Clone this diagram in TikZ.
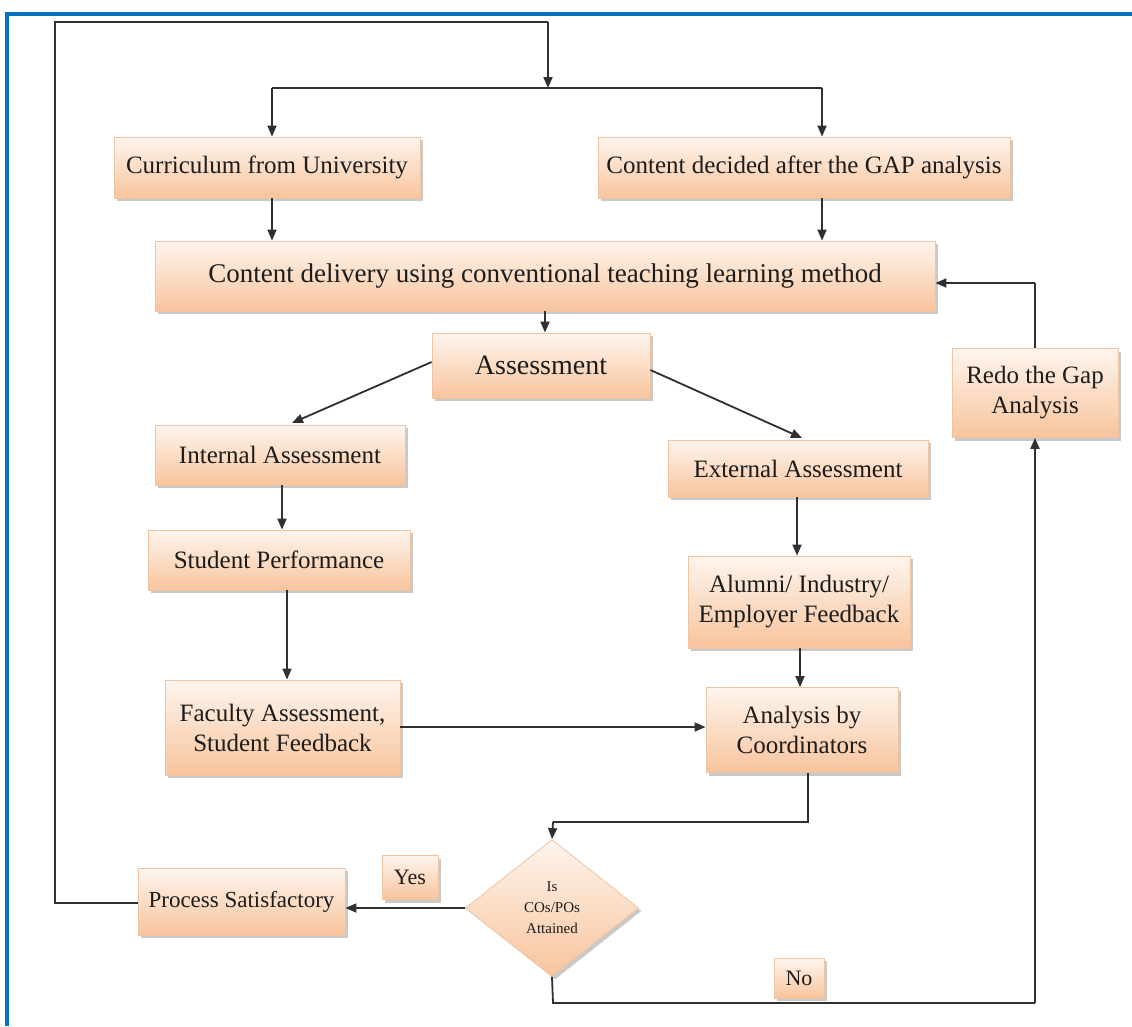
\documentclass[tikz,border=0pt]{standalone}
\usepackage{fontspec}
\setmainfont{Liberation Serif}
\usetikzlibrary{arrows.meta,shapes.geometric,shadows,calc}
\definecolor{peachtop}{HTML}{FEF5EE}
\definecolor{peachbot}{HTML}{F8C49C}
\definecolor{peachline}{HTML}{EFC4A2}
\definecolor{frameblue}{HTML}{0A70C0}
\definecolor{linecol}{HTML}{303030}
\definecolor{textcol}{HTML}{1C1C1C}
\begin{document}
\begin{tikzpicture}[x=1pt,y=-1pt,
  box/.style={draw=peachline,line width=0.8pt,top color=peachtop,bottom color=peachbot,
    drop shadow={shadow xshift=3pt,shadow yshift=-3pt,fill=black!35,opacity=0.6},
    text=textcol,align=center,inner sep=2pt,font=\fontsize{25}{30}\selectfont},
  conn/.style={draw=linecol,line width=1.8pt},
  arr/.style={conn,-{Triangle[length=11pt,width=9pt]}},
  ]
\useasboundingbox (0,0) rectangle (1132,1026);
\fill[white] (0,0) rectangle (1132,1026);
% blue frame
\draw[frameblue,line width=4pt] (4.5,14) -- (1132,14);
\draw[frameblue,line width=4pt] (6.5,12) -- (6.5,1026);

% nodes
\node[box,minimum width=306pt,minimum height=61pt] (cur) at (267,167.5) {Curriculum from University};
\node[box,minimum width=412pt,minimum height=61pt] (gap) at (804,167.5) {Content decided after the GAP analysis};
\node[box,minimum width=780pt,minimum height=70pt,font=\fontsize{27}{32}\selectfont] (del) at (545,276) {Content delivery using conventional teaching learning method};
\node[box,minimum width=218pt,minimum height=65pt,font=\fontsize{28}{32}\selectfont] (ass) at (541,365.5) {Assessment};
\node[box,minimum width=250pt,minimum height=60pt] (int) at (280,455) {Internal Assessment};
\node[box,minimum width=260pt,minimum height=57pt] (ext) at (798,468.5) {External Assessment};
\node[box,minimum width=262pt,minimum height=60pt] (sp) at (279,560) {Student Performance};
\node[box,minimum width=222pt,minimum height=92pt] (alu) at (799,602) {Alumni/ Industry/\\Employer Feedback};
\node[box,minimum width=235pt,minimum height=95pt] (fac) at (282.5,727.5) {Faculty Assessment,\\Student Feedback};
\node[box,minimum width=192pt,minimum height=85pt] (ana) at (802,730) {Analysis by\\Coordinators};
\node[box,minimum width=166pt,minimum height=89pt] (redo) at (1035,393) {Redo the Gap\\Analysis};
\node[box,diamond,minimum width=173pt,minimum height=137pt,inner sep=0pt,font=\fontsize{15}{21}\selectfont] (dia) at (552,908) {Is\\COs/POs\\Attained};
\node[box,minimum width=56pt,minimum height=44pt,font=\fontsize{22}{26}\selectfont] (yes) at (410,877.5) {Yes};
\node[box,minimum width=50pt,minimum height=40pt,font=\fontsize{22}{26}\selectfont] (no) at (799,978) {No};
\node[box,minimum width=207pt,minimum height=67pt,font=\fontsize{23}{28}\selectfont] (ps) at (241.5,901.5) {Process Satisfactory};

% top loop
\coordinate (tl) at (55,22);
\coordinate (tr) at (548,22);
\coordinate (split) at (548,88);
\coordinate (hl) at (272,88);
\coordinate (hr) at (822,88);
\draw[conn] (ps.west |- 0,903) -- (55,903) -- (tl) -- (tr);
\draw[arr] (tr) -- (split);
\draw[conn] (hl) -- (hr);
\draw[arr] (hl) -- (hl |- cur.north);
\draw[arr] (hr) -- (hr |- gap.north);

\draw[arr] (cur.south -| 272,0) -- (del.north -| 272,0);
\draw[arr] (gap.south -| 822,0) -- (del.north -| 822,0);
\draw[arr] (del.south -| 545,0) -- (ass.north -| 545,0);
\draw[arr] (ass.west |- 0,362) -- (292,423);
\draw[arr] (ass.east |- 0,370) -- (802,438);
\draw[arr] (int.south -| 282,0) -- (sp.north -| 282,0);
\draw[arr] (ext.south -| 797,0) -- (alu.north -| 797,0);
\draw[arr] (sp.south -| 287,0) -- (fac.north -| 287,0);
\draw[arr] (alu.south -| 800,0) -- (ana.north -| 800,0);
\draw[arr] (fac.east |- 0,727) -- (ana.west |- 0,727);

\draw[conn] (ana.south -| 808,0) -- (808,822) -- (553,822);
\draw[arr] (553,822) -- (dia.north);
\draw[arr] (dia.west) -- (ps.east |- dia.west);
\draw[conn] (dia.south) -- (553,1003) -- (1035,1003);
\draw[arr] (1035,1003) -- (redo.south);
\draw[conn] (redo.north) -- (1035,283);
\draw[arr] (1035,283) -- (del.east |- 0,283);
\end{tikzpicture}
\end{document}
